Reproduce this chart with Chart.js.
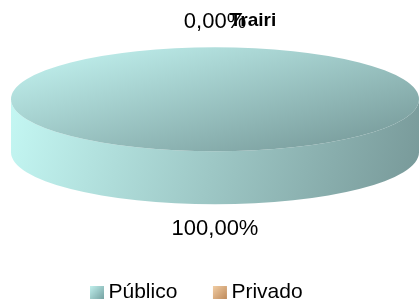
<!DOCTYPE html>
<html>
<head>
<meta charset="utf-8">
<script src="https://cdn.jsdelivr.net/npm/chart.js@4.4.0/dist/chart.umd.min.js"></script>
<style>
  html, body { margin: 0; padding: 0; background: #fff; }
  #wrap { width: 419px; height: 304px; }
</style>
</head>
<body>
<div id="wrap"><canvas id="chart"></canvas></div>
<script>
// data
const chartTitle = 'Trairi';
const categories = ['Público', 'Privado'];
const shares = [100, 0];

// look
const topColors = ['#c6f7f4', '#719393'];   // light -> dark
const sideColors = ['#c4f7f3', '#779898'];
const swatchColors = [['#c2f1ee', '#76a3a3'], ['#f3cfa6', '#bf8b5c']];
const RADIUS = 204;   // half width of the disc
const TILT = 0.255;   // vertical squash of the top face
const DEPTH = 53;     // thickness of the disc

function pct(v) {
  const total = shares.reduce((a, b) => a + b, 0);
  return (v / total * 100).toFixed(2).replace('.', ',') + '%';
}

function swatch(c) { // legend marker, placed inside a wider transparent image so the text sits close to it
  const cv = document.createElement('canvas');
  cv.width = 48; cv.height = 13;
  const g = cv.getContext('2d');
  const grad = g.createLinearGradient(33, 0, 47, 13);
  grad.addColorStop(0, c[0]);
  grad.addColorStop(1, c[1]);
  g.fillStyle = grad;
  g.fillRect(33, 0, 14, 13);
  return cv;
}
const swatches = swatchColors.map(swatch);

const pie3d = {
  id: 'pie3d',
  beforeDatasetsDraw(chart) {
    const ctx = chart.ctx;
    const arcs = chart.getDatasetMeta(0).data;
    const {x, y} = arcs[0];
    ctx.save();
    // rim, front half only
    arcs.forEach((arc) => {
      const r = arc.outerRadius;
      const grad = ctx.createLinearGradient(x - r, y, x + r, y + DEPTH + r * TILT);
      grad.addColorStop(0, sideColors[0]);
      grad.addColorStop(1, sideColors[1]);
      [-2 * Math.PI, 0, 2 * Math.PI].forEach((k) => {
        const lo = Math.max(arc.startAngle, k);
        const hi = Math.min(arc.endAngle, k + Math.PI);
        if (hi <= lo) return;
        ctx.beginPath();
        ctx.ellipse(x, y, r, r * TILT, 0, lo, hi, false);
        ctx.ellipse(x, y + DEPTH, r, r * TILT, 0, hi, lo, true);
        ctx.closePath();
        ctx.fillStyle = grad;
        ctx.fill();
      });
    });
    // squash the top face
    ctx.translate(x, y);
    ctx.scale(1, TILT);
    ctx.translate(-x, -y);
  },
  afterDatasetsDraw(chart) {
    const ctx = chart.ctx;
    ctx.restore();
    const arcs = chart.getDatasetMeta(0).data;
    ctx.save();
    ctx.fillStyle = '#000';
    ctx.textAlign = 'center';
    ctx.textBaseline = 'middle';
    ctx.font = '22px "Liberation Sans", Arial, sans-serif';
    arcs.forEach((arc, i) => {
      const a = (arc.startAngle + arc.endAngle) / 2;
      const r = arc.outerRadius;
      const s = Math.sin(a);
      const lx = arc.x + (r + 25) * Math.cos(a);
      const ly = arc.y + (r * TILT + 25) * s + (s > 0 ? DEPTH : 0);
      ctx.fillText(pct(shares[i]), lx, ly);
    });
    // title
    const c = arcs[0];
    ctx.font = 'bold 19px "Liberation Sans", Arial, sans-serif';
    ctx.fillText(chartTitle, c.x + 38, c.y - c.outerRadius * TILT - 26);
    ctx.restore();
  }
};

const ctx = document.getElementById('chart').getContext('2d');
new Chart(ctx, {
  type: 'pie',
  data: {
    labels: categories,
    datasets: [{
      data: shares,
      radius: RADIUS,
      borderWidth: 0,
      clip: false,
      backgroundColor: (c) => {
        const area = c.chart.chartArea;
        if (!area) return topColors[0];
        const cx = (area.left + area.right) / 2, cy = (area.top + area.bottom) / 2;
        const g = c.chart.ctx.createLinearGradient(cx - RADIUS, cy - RADIUS, cx + RADIUS, cy + RADIUS);
        g.addColorStop(0, topColors[0]);
        g.addColorStop(1, topColors[1]);
        return g;
      }
    }]
  },
  options: {
    responsive: true,
    maintainAspectRatio: false,
    animation: false,
    events: [],
    layout: { padding: { left: 54.5, right: 43.5, top: 0, bottom: -8.5 } },
    plugins: {
      title: { display: false },
      // empty box between the disc and the legend (room for the rim and the lower label)
      subtitle: {
        display: true,
        text: '',
        position: 'bottom',
        weight: 500,
        font: { size: 10 },
        padding: { top: 30.75, bottom: 30.75 }
      },
      tooltip: { enabled: false },
      legend: {
        position: 'bottom',
        align: 'start',
        labels: {
          usePointStyle: true,
          pointStyleWidth: 34,
          padding: 9.5,
          color: '#000',
          font: { family: '"Liberation Sans", Arial, sans-serif', size: 21 },
          generateLabels: (chart) => {
            const items = Chart.overrides.pie.plugins.legend.labels.generateLabels(chart);
            items.forEach((it, i) => { it.pointStyle = swatches[i]; it.hidden = false; });
            return items;
          }
        }
      }
    }
  },
  plugins: [pie3d]
});
</script>
</body>
</html>
